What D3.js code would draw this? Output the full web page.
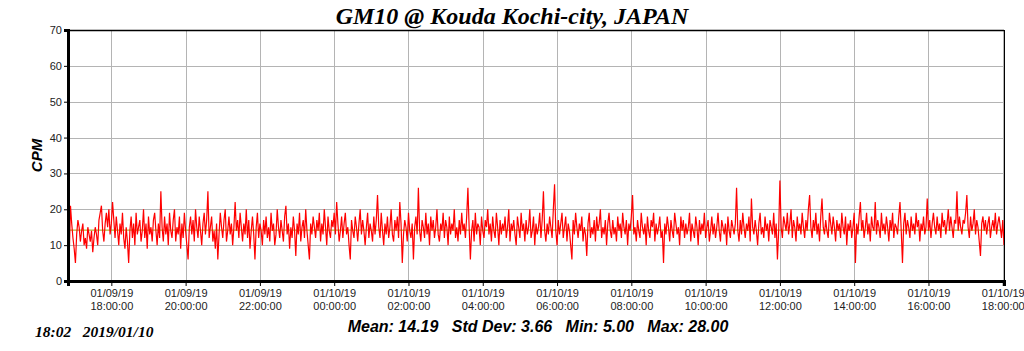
<!DOCTYPE html>
<html lang="en">
<head>
    <meta charset="UTF-8">
    <title>GM10 @ Kouda Kochi-city, JAPAN</title>
    <script src="https://d3js.org/d3.v7.min.js"></script>
    <style>
        body { margin: 0; background: #fff; }
        .tick text { font-family: "Liberation Sans", Arial, sans-serif; font-size: 11px; fill: #222; }
        .title { font-family: "Liberation Serif", "Times New Roman", serif; font-weight: bold; font-style: italic; font-size: 24px; }
        .stamp { font-family: "Liberation Serif", "Times New Roman", serif; font-weight: bold; font-style: italic; font-size: 15.5px; }
        .stats { font-family: "Liberation Sans", Arial, sans-serif; font-weight: bold; font-style: italic; font-size: 16px; }
        .ylabel { font-family: "Liberation Sans", Arial, sans-serif; font-weight: bold; font-style: italic; font-size: 15px; }
    </style>
</head>
<body>
    <svg id="chart" width="1024" height="351"></svg>
    <script>
        // counts per minute, one reading every 2 minutes from 16:50 on 01/09
        const startTime = new Date(2019, 0, 9, 16, 50);
        const endTime = new Date(2019, 0, 10, 18, 2);
        const stepMinutes = 2;
        const cpm = [
            14,7,21,16,12,9,5,13,17,15,11,14,16,10,12,9,15,13,11,14,
            8,12,15,13,10,17,19,21,14,11,16,19,15,20,13,16,22,17,12,18,
            14,10,16,13,19,12,9,15,11,5,14,18,12,16,10,19,13,15,17,11,
            14,20,12,16,9,18,13,15,11,17,19,14,10,16,12,25,15,11,18,13,
            16,10,19,14,12,17,20,11,15,13,18,9,16,12,19,14,10,6,15,18,
            13,17,11,20,15,12,18,14,10,16,19,13,17,25,12,15,18,11,14,9,
            16,6,13,19,15,12,17,20,11,14,18,13,16,10,15,22,14,17,12,19,
            15,11,16,13,20,12,17,9,14,18,13,6,15,19,12,16,14,10,17,13,
            18,12,15,11,19,14,16,10,13,20,15,12,17,14,11,18,21,13,16,9,
            15,12,18,14,7,16,13,19,11,15,17,12,20,14,10,6,16,13,18,15,
            12,17,14,19,11,16,13,20,15,10,18,14,12,17,15,19,13,22,16,11,
            14,18,12,16,19,13,15,10,6,17,14,12,18,15,11,16,20,13,17,14,
            10,15,19,12,16,14,11,18,13,17,24,15,12,19,14,10,16,13,18,12,
            15,20,13,11,17,14,18,12,22,16,5,13,17,15,11,19,14,12,16,6,
            15,18,13,26,14,11,17,15,12,19,13,16,10,18,14,17,12,15,20,13,
            11,16,14,19,12,17,15,10,18,13,16,14,20,12,15,11,17,13,19,14,
            16,12,18,26,15,6,14,17,11,19,13,16,15,10,18,14,12,17,15,20,
            13,16,11,18,14,12,19,15,10,17,13,16,14,18,12,15,20,11,16,14,
            17,13,10,18,15,12,19,14,16,11,17,13,15,20,12,14,18,10,16,13,
            15,19,12,17,25,14,11,16,13,18,15,12,20,27,14,10,17,13,16,19,
            12,15,18,11,16,14,10,6,17,13,19,15,12,16,14,18,11,15,13,7,
            16,19,12,15,13,17,11,18,14,16,20,12,15,13,17,10,16,19,14,12,
            17,13,15,11,18,14,16,12,19,15,13,17,10,16,14,18,24,13,15,11,
            17,14,12,19,15,13,16,10,18,14,12,17,15,19,11,16,13,15,18,12,
            14,5,16,13,18,15,11,17,14,12,19,16,13,15,10,18,14,17,12,16,
            13,15,19,11,16,14,12,18,15,10,17,13,16,14,19,12,15,17,11,14,
            18,13,16,12,15,19,14,11,17,15,13,16,10,18,14,12,17,15,13,16,
            26,14,11,17,13,19,15,12,16,14,18,11,23,15,13,17,14,10,16,19,
            13,15,12,18,14,16,11,17,15,13,19,12,16,6,14,28,15,12,18,16,
            14,19,13,16,20,12,17,15,11,18,14,16,13,19,15,12,17,14,20,24,
            15,12,17,14,19,13,16,11,18,23,15,13,17,14,12,19,16,13,18,15,
            11,17,14,16,12,19,15,13,18,10,16,14,17,12,15,19,5,16,13,18,
            22,14,17,12,15,19,13,16,11,18,15,14,22,13,17,15,12,19,14,16,
            13,18,15,11,17,14,19,12,16,15,13,18,22,14,5,16,19,13,17,15,
            12,18,14,16,13,19,15,17,11,16,14,18,13,15,23,14,17,12,16,19,
            15,13,18,14,16,12,19,15,17,13,16,20,14,18,15,12,17,16,25,14,
            18,15,13,17,16,19,24,15,12,18,14,16,20,13,17,15,11,7,16,18,
            14,17,13,16,18,12,15,17,14,19,13,16,18,15,12,17,10
        ];
        const yTicks = [0, 10, 20, 30, 40, 50, 60, 70];
        const xTickHours = [18, 20, 22, 24, 26, 28, 30, 32, 34, 36, 38, 40, 42];
        const statNames = ["Mean", "Std Dev", "Min", "Max"];
        const statValues = [14.19, 3.66, 5.00, 28.00];
        const titleText = "GM10 @ Kouda Kochi-city, JAPAN";
        const stampText = "18:02\u00a0\u00a0\u00a02019/01/10";

        const svg = d3.select("#chart");
        const plotLeft = 68, plotRight = 1004, plotTop = 30, plotBottom = 281;

        const x = d3.scaleTime().domain([startTime, endTime]).range([plotLeft, plotRight]);
        const y = d3.scaleLinear().domain([0, 70]).range([plotBottom, plotTop]);

        const data = cpm.map((v, i) => ({ t: d3.timeMinute.offset(startTime, i * stepMinutes), v: v }));
        const xTickDates = xTickHours.map(h => new Date(2019, 0, 9, h, 0));
        const fmtDate = d3.timeFormat("%m/%d/%y");
        const fmtTime = d3.timeFormat("%H:%M:%S");

        // grid
        svg.append("g").selectAll("line")
            .data(yTicks.slice(1))
            .enter().append("line")
            .attr("x1", plotLeft).attr("x2", plotRight)
            .attr("y1", d => Math.round(y(d)) + 0.5).attr("y2", d => Math.round(y(d)) + 0.5)
            .attr("stroke", "#b4b4b4").attr("stroke-width", 1);
        svg.append("g").selectAll("line")
            .data(xTickDates)
            .enter().append("line")
            .attr("x1", d => Math.round(x(d)) + 0.5).attr("x2", d => Math.round(x(d)) + 0.5)
            .attr("y1", plotTop).attr("y2", plotBottom)
            .attr("stroke", "#b4b4b4").attr("stroke-width", 1);

        // mean line
        svg.append("line")
            .attr("x1", plotLeft).attr("x2", plotRight)
            .attr("y1", y(statValues[0])).attr("y2", y(statValues[0]))
            .attr("stroke", "#a0a000").attr("stroke-width", 1);

        // data line
        const line = d3.line().x(d => x(d.t)).y(d => y(d.v));
        svg.append("path")
            .datum(data)
            .attr("d", line)
            .attr("fill", "none")
            .attr("stroke", "#ff0000")
            .attr("stroke-width", 1.2);

        // frame
        svg.append("line").attr("x1", plotLeft).attr("x2", plotRight).attr("y1", plotTop + 0.5).attr("y2", plotTop + 0.5)
            .attr("stroke", "#000").attr("stroke-width", 1.5);
        svg.append("line").attr("x1", plotRight + 0.5).attr("x2", plotRight + 0.5).attr("y1", plotTop).attr("y2", plotBottom)
            .attr("stroke", "#000").attr("stroke-width", 1);

        // axes
        const yAxis = d3.axisLeft(y).tickValues(yTicks).tickSize(4).tickPadding(2).tickFormat(d3.format("d"));
        const gy = svg.append("g").attr("transform", `translate(${plotLeft},0)`).call(yAxis);
        gy.select(".domain").attr("stroke-width", 3);

        const xAxis = d3.axisBottom(x).tickValues(xTickDates).tickSize(5).tickFormat("");
        const gx = svg.append("g").attr("transform", `translate(0,${plotBottom})`).call(xAxis);
        gx.select(".domain").attr("stroke-width", 3);
        gx.selectAll(".tick text").remove();
        gx.selectAll(".tick").append("text")
            .attr("fill", "#222").attr("text-anchor", "middle")
            .each(function(d) {
                const t = d3.select(this);
                t.append("tspan").attr("x", 0).attr("y", 16).text(fmtDate(d));
                t.append("tspan").attr("x", 0).attr("y", 29).text(fmtTime(d));
            });

        // texts
        svg.append("text").attr("class", "title")
            .attr("x", 512).attr("y", 24).attr("text-anchor", "middle")
            .text(titleText);

        svg.append("text").attr("class", "ylabel")
            .attr("transform", `translate(42,${(plotTop + plotBottom) / 2}) rotate(-90)`)
            .attr("text-anchor", "middle")
            .text("CPM");

        svg.append("text").attr("class", "stamp")
            .attr("x", 35).attr("y", 337)
            .text(stampText);

        const statsText = statNames.map((n, i) => `${n}: ${statValues[i].toFixed(2)}`).join("\u00a0\u00a0\u00a0");
        svg.append("text").attr("class", "stats")
            .attr("x", 538).attr("y", 332).attr("text-anchor", "middle")
            .text(statsText);
    </script>
</body>
</html>
